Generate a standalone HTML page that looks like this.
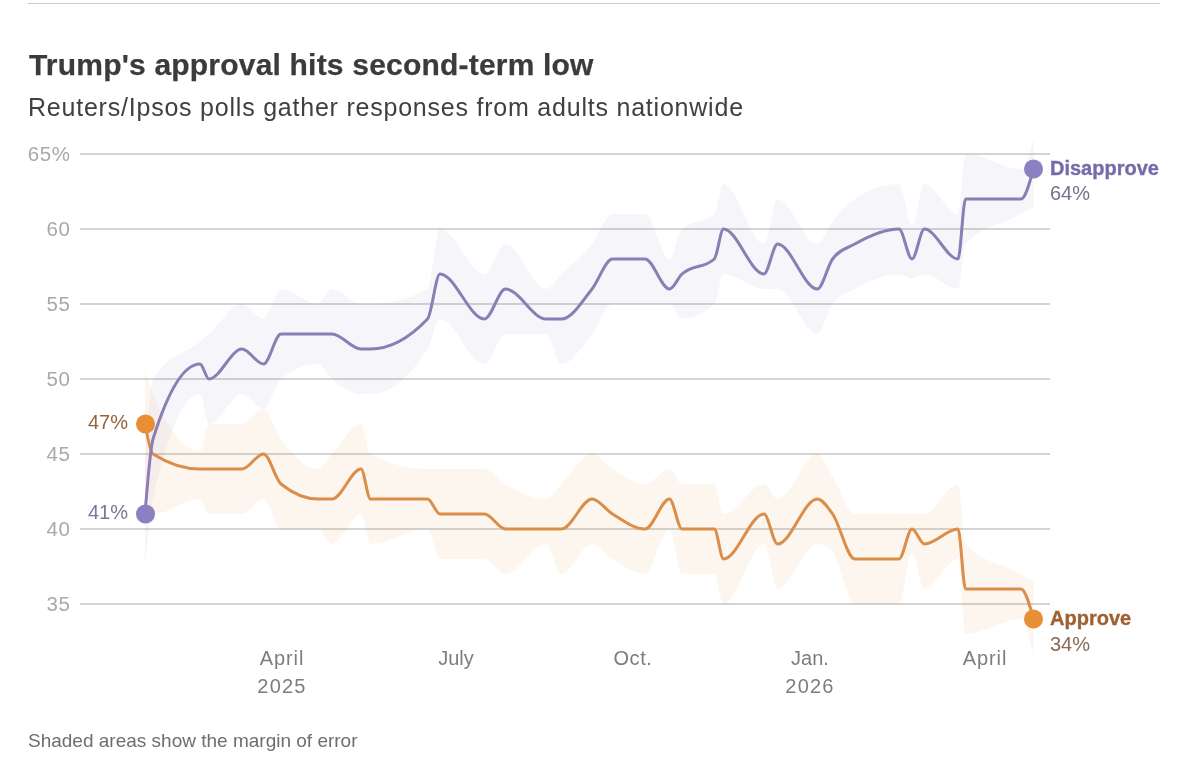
<!DOCTYPE html>
<html><head><meta charset="utf-8"><title>Trump's approval hits second-term low</title>
<style>
html,body{margin:0;padding:0;background:#fff;}
body{width:1182px;height:776px;position:relative;overflow:hidden;font-family:"Liberation Sans",sans-serif;}
.t{position:absolute;white-space:nowrap;line-height:1;will-change:transform;}
#rule{position:absolute;left:28px;top:3px;width:1132px;height:1px;background:#cbcbcb;}
#title{left:29px;top:50px;font-size:30px;font-weight:bold;color:#3b3b3b;letter-spacing:0.2px;-webkit-text-stroke:0.25px #3b3b3b;}
#sub{left:27.5px;top:94.5px;font-size:25px;color:#404040;letter-spacing:0.78px;}
.yl{font-size:20.5px;color:#a9a9a9;width:70.6px;left:0;text-align:right;letter-spacing:0.6px;}
.xl{font-size:20px;color:#7d7d7d;width:120px;text-align:center;line-height:28px;}
#foot{left:28px;top:731px;font-size:19px;color:#6e6e6e;}
svg{position:absolute;left:0;top:0;}
</style></head><body>
<div id="rule"></div>
<div class="t" id="title">Trump's approval hits second-term low</div>
<div class="t" id="sub">Reuters/Ipsos polls gather responses from adults nationwide</div>
<svg width="1182" height="776" viewBox="0 0 1182 776">
<rect x="80" y="603" width="970" height="2" fill="#d4d4d4"/><rect x="80" y="528" width="970" height="2" fill="#d4d4d4"/><rect x="80" y="453" width="970" height="2" fill="#d4d4d4"/><rect x="80" y="378" width="970" height="2" fill="#d4d4d4"/><rect x="80" y="303" width="970" height="2" fill="#d4d4d4"/><rect x="80" y="228" width="970" height="2" fill="#d4d4d4"/><rect x="80" y="153" width="970" height="2" fill="#d4d4d4"/>
<path d="M145,370C147.67,378.77,150.33,387.53,153,394C168.67,432,184.33,451,200,451C203,451,206,424,209,424C220,424,231,424,242,424C249.17,424,256.33,409,263.5,409C269.33,409,275.17,430.69,281,439C293.33,456.56,305.67,469,318,469C322.67,469,327.33,458.94,332,454C341.67,443.76,351.33,424,361,424C364.17,424,367.33,452.33,370.5,454C389.5,464,408.5,469,427.5,469C431.67,469,435.83,469,440,469C454.83,469,469.67,469,484.5,469C491.5,469,498.5,479.82,505.5,484C519,492.06,532.5,499,546,499C551.17,499,556.33,489.03,561.5,484C571.67,474.11,581.83,454,592,454C598.83,454,605.67,464.71,612.5,469C623.33,475.79,634.17,484,645,484C653.17,484,661.33,469,669.5,469C673.67,469,677.83,484,682,484C692.77,484,703.53,484,714.3,484C717.37,484,720.43,514,723.5,514C737,514,750.5,484,764,484C768.5,484,773,499,777.5,499C790.77,499,804.03,454,817.3,454C822.4,454,827.5,468.55,832.6,476.5C840,488.04,847.4,514,854.8,514C869.53,514,884.27,514,899,514C903.33,514,907.67,514,912,514C916.13,514,920.27,514,924.4,514C935.6,514,946.8,484,958,484C960.53,484,963.07,541.26,965.6,544C984.07,564,1002.53,563.12,1021,574C1025.17,576.46,1029.33,578.98,1033.5,581.5L1033.5,656.5C1029.33,637.75,1025.17,619,1021,619C1002.53,619,984.07,634,965.6,634C963.07,634,960.53,559,958,559C946.8,559,935.6,589,924.4,589C920.27,589,916.13,553,912,553C907.67,553,903.33,604,899,604C884.27,604,869.53,604,854.8,604C847.4,604,840,558.75,832.6,551.5C827.5,546.5,822.4,544,817.3,544C804.03,544,790.77,589,777.5,589C773,589,768.5,544,764,544C750.5,544,737,604,723.5,604C720.43,604,717.37,574,714.3,574C703.53,574,692.77,574,682,574C677.83,574,673.67,529,669.5,529C661.33,529,653.17,574,645,574C634.17,574,623.33,565.79,612.5,559C605.67,554.71,598.83,544,592,544C581.83,544,571.67,574,561.5,574C556.33,574,551.17,544,546,544C532.5,544,519,574,505.5,574C498.5,574,491.5,559,484.5,559C469.67,559,454.83,559,440,559C435.83,559,431.67,529,427.5,529C408.5,529,389.5,544,370.5,544C367.33,544,364.17,514,361,514C351.33,514,341.67,544,332,544C327.33,544,322.67,529,318,529C305.67,529,293.33,529,281,529C275.17,529,269.33,499,263.5,499C256.33,499,249.17,514,242,514C231,514,220,514,209,514C206,514,203,499,200,499C184.33,499,168.67,514,153,514C150.33,514,147.67,496,145,478Z" fill="#e08a35" fill-opacity="0.08"/>
<path d="M145,460C147.67,421.63,150.33,383.26,153,379C168.67,354,184.33,354.47,200,341.5C203,339.02,206,336.55,209,334C220,324.65,231,304,242,304C249.17,304,256.33,319,263.5,319C269.33,319,275.17,289,281,289C293.33,289,305.67,304,318,304C322.67,304,327.33,289,332,289C341.67,289,351.33,304,361,304C364.17,304,367.33,304,370.5,304C389.5,304,408.5,299,427.5,289C431.67,286.81,435.83,229,440,229C454.83,229,469.67,274,484.5,274C491.5,274,498.5,244,505.5,244C519,244,532.5,289,546,289C551.17,289,556.33,279.03,561.5,274C571.67,264.11,581.83,256.92,592,244C598.83,235.32,605.67,214,612.5,214C623.33,214,634.17,214,645,214C653.17,214,661.33,259,669.5,259C673.67,259,677.83,232.87,682,229C692.77,219,703.53,224,714.3,214C717.37,211.15,720.43,184,723.5,184C737,184,750.5,244,764,244C768.5,244,773,199,777.5,199C790.77,199,804.03,244,817.3,244C822.4,244,827.5,228.05,832.6,221.5C840,212,847.4,204.02,854.8,199C869.53,189,884.27,184,899,184C903.33,184,907.67,226,912,226C916.13,226,920.27,184,924.4,184C935.6,184,946.8,214,958,214C960.53,214,963.07,154,965.6,154C984.07,154,1002.53,169,1021,169C1025.17,169,1029.33,154,1033.5,139L1033.5,206.5C1029.33,209.02,1025.17,211.54,1021,214C1002.53,224.88,984.07,224,965.6,244C963.07,246.74,960.53,289,958,289C946.8,289,935.6,274,924.4,274C920.27,274,916.13,278.5,912,278.5C907.67,278.5,903.33,274,899,274C884.27,274,869.53,280.7,854.8,289C847.4,293.17,840,294,832.6,304C827.5,310.89,822.4,334,817.3,334C804.03,334,790.77,289,777.5,289C773,289,768.5,289,764,289C750.5,289,737,274,723.5,274C720.43,274,717.37,301.15,714.3,304C703.53,314,692.77,319,682,319C677.83,319,673.67,304,669.5,304C661.33,304,653.17,304,645,304C634.17,304,623.33,304,612.5,304C605.67,304,598.83,325.32,592,334C581.83,346.92,571.67,364,561.5,364C556.33,364,551.17,334,546,334C532.5,334,519,334,505.5,334C498.5,334,491.5,364,484.5,364C469.67,364,454.83,319,440,319C435.83,319,431.67,342.42,427.5,349C408.5,379,389.5,394,370.5,394C367.33,394,364.17,394,361,394C351.33,394,341.67,387.61,332,379C327.33,374.84,322.67,364,318,364C305.67,364,293.33,369,281,379C275.17,383.73,269.33,409,263.5,409C256.33,409,249.17,394,242,394C231,394,220,424,209,424C206,424,203,394,200,394C184.33,394,168.67,429,153,499C150.33,510.91,147.67,539.46,145,568Z" fill="#8b7fbd" fill-opacity="0.08"/>
<path d="M145,424C147.67,438.15,150.33,452.3,153,454C168.67,464,184.33,469,200,469C203,469,206,469,209,469C220,469,231,469,242,469C249.17,469,256.33,454,263.5,454C269.33,454,275.17,479.27,281,484C293.33,494,305.67,499,318,499C322.67,499,327.33,499,332,499C341.67,499,351.33,469,361,469C364.17,469,367.33,499,370.5,499C389.5,499,408.5,499,427.5,499C431.67,499,435.83,514,440,514C454.83,514,469.67,514,484.5,514C491.5,514,498.5,529,505.5,529C519,529,532.5,529,546,529C551.17,529,556.33,529,561.5,529C571.67,529,581.83,499,592,499C598.83,499,605.67,509.71,612.5,514C623.33,520.79,634.17,529,645,529C653.17,529,661.33,499,669.5,499C673.67,499,677.83,529,682,529C692.77,529,703.53,529,714.3,529C717.37,529,720.43,559,723.5,559C737,559,750.5,514,764,514C768.5,514,773,544,777.5,544C790.77,544,804.03,499,817.3,499C822.4,499,827.5,506.82,832.6,514C840,524.41,847.4,559,854.8,559C869.53,559,884.27,559,899,559C903.33,559,907.67,529,912,529C916.13,529,920.27,544,924.4,544C935.6,544,946.8,529,958,529C960.53,529,963.07,589,965.6,589C984.07,589,1002.53,589,1021,589C1025.17,589,1029.33,604,1033.5,619" fill="none" stroke="#d98e49" stroke-width="3" stroke-linejoin="round" stroke-linecap="round"/>
<path d="M145,514C147.67,480.76,150.33,447.51,153,439C168.67,389,184.33,364,200,364C203,364,206,379,209,379C220,379,231,349,242,349C249.17,349,256.33,364,263.5,364C269.33,364,275.17,334,281,334C293.33,334,305.67,334,318,334C322.67,334,327.33,334,332,334C341.67,334,351.33,349,361,349C364.17,349,367.33,349,370.5,349C389.5,349,408.5,339,427.5,319C431.67,314.61,435.83,274,440,274C454.83,274,469.67,319,484.5,319C491.5,319,498.5,289,505.5,289C519,289,532.5,319,546,319C551.17,319,556.33,319,561.5,319C571.67,319,581.83,301.92,592,289C598.83,280.32,605.67,259,612.5,259C623.33,259,634.17,259,645,259C653.17,259,661.33,289,669.5,289C673.67,289,677.83,277.87,682,274C692.77,264,703.53,269,714.3,259C717.37,256.15,720.43,229,723.5,229C737,229,750.5,274,764,274C768.5,274,773,244,777.5,244C790.77,244,804.03,289,817.3,289C822.4,289,827.5,265.89,832.6,259C840,249,847.4,248.17,854.8,244C869.53,235.7,884.27,229,899,229C903.33,229,907.67,259,912,259C916.13,259,920.27,229,924.4,229C935.6,229,946.8,259,958,259C960.53,259,963.07,199,965.6,199C984.07,199,1002.53,199,1021,199C1025.17,199,1029.33,184,1033.5,169" fill="none" stroke="#8c7db4" stroke-width="3" stroke-linejoin="round" stroke-linecap="round"/>
<circle cx="145.5" cy="424" r="9.5" fill="#e88e34"/>
<circle cx="145.5" cy="514" r="9.5" fill="#8c80c3"/>
<circle cx="1033.5" cy="169" r="9.5" fill="#8c80c3"/>
<circle cx="1033.5" cy="619" r="9.5" fill="#e88e34"/>
</svg>
<div class="t yl" style="top:144px">65%</div>
<div class="t yl" style="top:219px">60</div>
<div class="t yl" style="top:294px">55</div>
<div class="t yl" style="top:369px">50</div>
<div class="t yl" style="top:444px">45</div>
<div class="t yl" style="top:519px">40</div>
<div class="t yl" style="top:594px">35</div>
<div class="t" style="left:88px;width:39px;text-align:right;top:412px;font-size:20px;color:#96643f">47%</div>
<div class="t" style="left:88px;width:39px;text-align:right;top:502px;font-size:20px;color:#7d769b">41%</div>
<div class="t" style="left:1050px;top:158px;font-size:20px;font-weight:bold;color:#766baa;-webkit-text-stroke:0.35px #766baa">Disapprove</div>
<div class="t" style="left:1050px;top:183px;font-size:20px;color:#77708f">64%</div>
<div class="t" style="left:1050px;top:608px;font-size:20px;font-weight:bold;color:#a0602f;-webkit-text-stroke:0.35px #a0602f">Approve</div>
<div class="t" style="left:1050px;top:633.5px;font-size:20px;color:#8a6a54">34%</div>
<div class="t xl" style="left:221.5px;top:644px"><span style="letter-spacing:.9px">April</span><br><span style="letter-spacing:1.2px">2025</span></div>
<div class="t xl" style="left:396px;top:644px">July</div>
<div class="t xl" style="left:573px;top:644px"><span style="letter-spacing:.6px">Oct.</span></div>
<div class="t xl" style="left:750px;top:644px">Jan.<br><span style="letter-spacing:1.2px">2026</span></div>
<div class="t xl" style="left:925px;top:644px"><span style="letter-spacing:.9px">April</span></div>
<div class="t" id="foot">Shaded areas show the margin of error</div>
</body></html>
